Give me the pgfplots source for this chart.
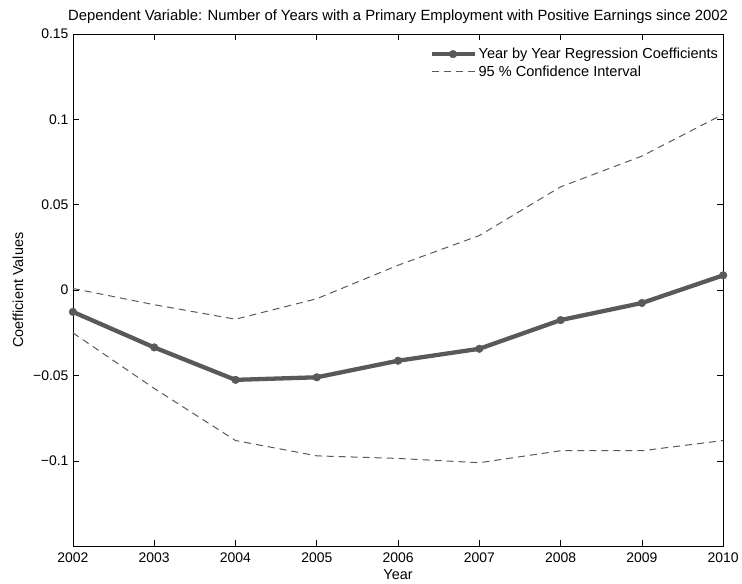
\documentclass[border=0pt]{standalone}
\usepackage{pgfplots}
\pgfplotsset{compat=1.18}
\usepackage{fontspec}
\setmainfont{Liberation Sans}
\definecolor{lineg}{RGB}{89,89,89}

\pgfplotstableread{
year  coef     upper    lower
2002  -0.0127  0.0010  -0.0250
2003  -0.0335  -0.0085 -0.0575
2004  -0.0525  -0.0170 -0.0880
2005  -0.0510  -0.0050 -0.0970
2006  -0.0413  0.0146  -0.0985
2007  -0.0343  0.0320  -0.1010
2008  -0.0175  0.0605  -0.0940
2009  -0.0075  0.0785  -0.0940
2010  0.0087   0.1030  -0.0880
}\coefs

\begin{document}
\begin{tikzpicture}
\begin{axis}[
  scale only axis,
  width=651bp, height=513bp,
  xmin=2002, xmax=2010,
  ymin=-0.15, ymax=0.15,
  xtick={2002,2003,...,2010},
  xticklabels={2002,2003,2004,2005,2006,2007,2008,2009,2010},
  ytick={-0.1,-0.05,0,0.05,0.1,0.15},
  yticklabels={−0.1,−0.05,0,0.05,0.1,0.15},
  tick align=inside,
  tick pos=both,
  major tick length=6.5bp,
  tick style={black, line width=0.6bp},
  axis line style={black, line width=0.8bp},
  font=\fontsize{14.5}{17}\selectfont,
  ticklabel style={font=\fontsize{14}{16}\selectfont},
  xticklabel style={yshift=-3bp},
  yticklabel style={xshift=-1bp},
  title={Dependent Variable: Number of Years with a Primary Employment with Positive Earnings since 2002},
  title style={at={(axis description cs:0.5,1)}, anchor=center, yshift=11bp,
    font=\fontsize{14.9}{18}\selectfont},
  xlabel={Year},
  xlabel style={at={(axis description cs:0.5,0)}, anchor=center, yshift=-28bp},
  ylabel={Coefficient Values},
  ylabel style={at={(axis description cs:-0.0845,0.5)}, anchor=center},
  clip=false,
  legend style={draw=none, fill=none, at={(axis description cs:1,1)}, anchor=north east,
    xshift=-2bp, yshift=-11bp, row sep=1.5bp, inner sep=1bp,
    font=\fontsize{14.6}{17}\selectfont},
  legend cell align=left,
  legend image code/.code={\draw[mark repeat=2,mark phase=2] plot coordinates {(0bp,0bp) (21.5bp,0bp) (43bp,0bp)};},
]
\addplot[lineg, line width=4.3bp, mark=*, mark size=3.8bp, mark options={solid, fill=lineg, draw=lineg, line width=0.5bp}]
  table[x=year, y=coef] {\coefs};
\addlegendentry{Year by Year Regression Coefficients}
\addplot[lineg, line width=1bp, dash pattern=on 7bp off 5bp]
  table[x=year, y=upper] {\coefs};
\addlegendentry{95 \% Confidence Interval}
\addplot[lineg, line width=1bp, dash pattern=on 7bp off 5bp, forget plot]
  table[x=year, y=lower] {\coefs};
\end{axis}
\useasboundingbox (-73bp,-37bp) rectangle (669bp,547bp);
\end{tikzpicture}
\end{document}
